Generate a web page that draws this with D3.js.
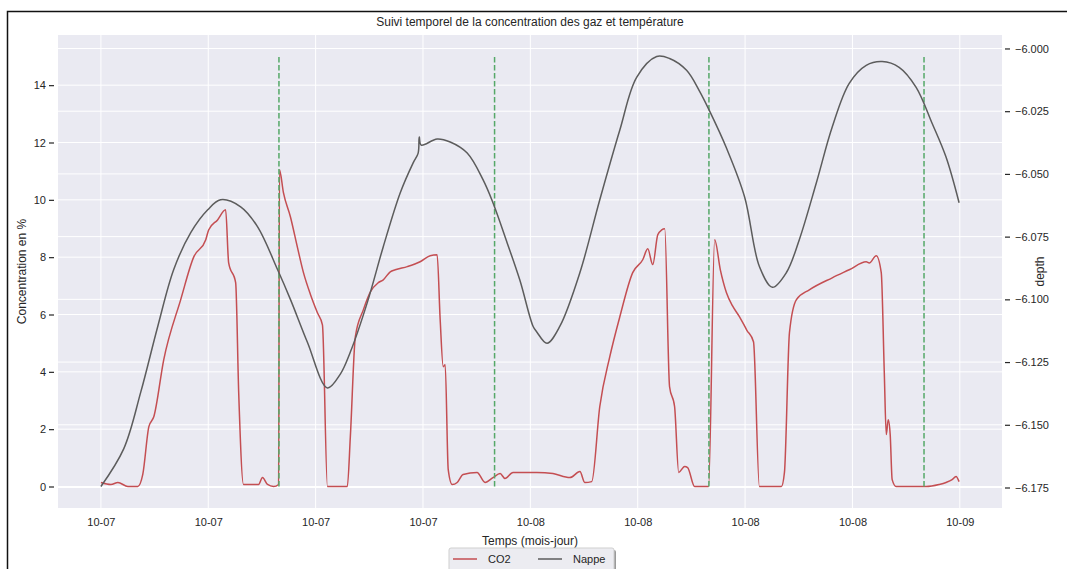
<!DOCTYPE html>
<html>
<head>
<meta charset="utf-8">
<script src="https://cdn.jsdelivr.net/npm/d3@7"></script>
<style>
  body { margin: 0; background: #fff; }
  svg { font-family: "Liberation Sans", Arial, sans-serif; }
</style>
</head>
<body>
<svg id="chart" width="1067" height="569"></svg>
<script>
// heures depuis le 10-07 00:00
const co2Hours = [0, 0.56, 0.95, 1.51, 2.06, 2.34, 2.68, 2.96, 3.51, 4.46, 5.19, 5.86, 6.02, 6.52, 6.97, 7.14, 7.53, 7.7, 7.97, 8.53, 8.81, 9.03, 9.31, 9.65, 9.93,
  9.98, 10.2, 10.59, 10.98, 11.32, 11.71, 12.1, 12.38, 12.66, 13.77, 13.94, 14.22, 14.67, 15.06, 15.5, 15.78, 16.17, 16.45, 17.12, 17.84, 18.4, 18.79, 18.96, 19.13, 19.24, 19.41,
  19.63, 19.91, 20.24, 21.02, 21.47, 21.91, 22.31, 22.58, 23.03, 24.15, 24.37, 25.26, 26.21, 26.77, 27.04, 27.43, 27.88, 28.44, 29.0, 29.72, 30.28, 30.56,
  30.84, 31.12, 31.34, 31.51, 31.78, 32.06, 32.29, 32.62, 32.79, 33.18, 33.96, 34.3, 34.62, 34.96, 35.3, 35.69, 36.1, 36.47, 36.8, 38.03, 38.2, 38.48, 38.87, 39.59, 40.87,
  41.82, 42.77, 42.94, 43.33, 43.61, 43.78, 43.89, 44.0, 44.11, 44.22, 44.44, 46.12, 46.84, 47.23, 47.57, 47.79, 47.96]
const co2Values = [0.14, 0.07, 0.14, 0, 0, 0.42, 2.09, 2.44, 4.42, 6.52, 8.01, 8.61, 8.95, 9.3, 9.65, 7.8, 7.11, 3.28, 0.07, 0.07, 0.07, 0.31, 0.07, 0, 0.07,
  11.05, 10.25, 9.41, 8.35, 7.46, 6.7, 6.06, 5.64, 0, 0, 1.74, 5.23, 6.17, 6.79, 7.11, 7.21, 7.49, 7.56, 7.67, 7.84, 8.05, 8.08, 5.82, 4.18, 4.25, 0.59,
  0.07, 0.14, 0.42, 0.49, 0.14, 0.31, 0.45, 0.28, 0.49, 0.49, 0.49, 0.45, 0.31, 0.52, 0.14, 0.17, 2.79, 4.53, 5.92, 7.46, 7.91, 8.29,
  7.74, 8.78, 8.95, 8.99, 3.48, 2.79, 0.49, 0.7, 0.66, 0, 0, 8.61, 7.55, 6.76, 6.3, 5.92, 5.45, 5.05, 0, 0, 0.49, 5.37, 6.52, 6.86, 7.28,
  7.56, 7.84, 7.8, 8.05, 7.46, 3.97, 1.81, 2.33, 1.81, 0.24, 0, 0, 0.07, 0.14, 0.24, 0.35, 0.17]

const nappeHours = [0, 1.28, 2.23, 3.18, 4.07, 5.02, 5.97, 6.69, 7.81, 8.75, 9.87, 10.59, 11.54, 12.66, 13.38, 13.94, 14.89, 15.78, 16.73, 17.45, 17.73,
  17.79, 17.9, 18.79, 19.52, 20.47, 21.36, 21.91, 22.7, 23.42, 24.15, 24.37, 24.93, 25.65, 26.77, 27.88, 29.0, 29.94, 31.06, 31.78, 32.73, 33.46,
  34.02, 34.96, 35.97, 36.8, 37.53, 38.31, 39.03, 39.98, 40.87, 41.82, 42.77, 43.66, 44.61, 45.56, 46.45, 47.23, 47.96]
const nappeDepth = [-6.1746, -6.1595, -6.1369, -6.1107, -6.0881, -6.0734, -6.0643, -6.0603, -6.0631, -6.071, -6.0881, -6.1, -6.1171, -6.1353, -6.1298,
  -6.121, -6.1012, -6.079, -6.0575, -6.0456, -6.0417, -6.0353, -6.0385, -6.0361, -6.0373, -6.0417, -6.0524, -6.0615, -6.0774, -6.0925, -6.1107,
  -6.1131, -6.1175, -6.1107, -6.0893, -6.0603, -6.0325, -6.0115, -6.0032, -6.004, -6.0087, -6.0171, -6.025, -6.0397, -6.0591, -6.0869, -6.0952,
  -6.0893, -6.0762, -6.0536, -6.0313, -6.0139, -6.0067, -6.0052, -6.0075, -6.0155, -6.0298, -6.0433, -6.0615]

const eventHours = [9.95, 22.0, 33.98, 46.0]
const eventTop = 15

const leftTicks = [0, 2, 4, 6, 8, 10, 12, 14]
const rightTicks = [-6.000, -6.025, -6.050, -6.075, -6.100, -6.125, -6.150, -6.175]

const start = new Date(2021, 9, 7, 0, 0)
const toDate = h => new Date(start.getTime() + h * 3600 * 1000)

const co2 = co2Hours.map((h, i) => ({ date: toDate(h), value: co2Values[i] }))
const nappe = nappeHours.map((h, i) => ({ date: toDate(h), value: nappeDepth[i] }))

const svg = d3.select('#chart')
const margin = { top: 35, right: 65, bottom: 61, left: 58 }
const width = 1067 - margin.left - margin.right
const height = 569 - margin.top - margin.bottom

// cadre de la capture
svg.append('path')
  .attr('d', 'M7.5,569 V11.5 H1067')
  .attr('fill', 'none')
  .attr('stroke', '#111')
  .attr('stroke-width', 1.5)

const pad = ([a, b]) => [a - (b - a) * 0.05, b + (b - a) * 0.05]

const x = d3.scaleTime()
  .domain(pad(d3.extent(co2Hours)).map(toDate))
  .range([0, width])
const y = d3.scaleLinear()
  .domain(pad([0, eventTop]))
  .range([height, 0])
const y2 = d3.scaleLinear()
  .domain(pad(d3.extent(nappeDepth)))
  .range([height, 0])

const g = svg.append('g').attr('transform', 'translate(' + margin.left + ',' + margin.top + ')')

g.append('rect')
  .attr('width', width)
  .attr('height', height)
  .attr('fill', '#eaeaf2')

const xTicks = d3.range(0, 49, 6).map(toDate)

g.append('g').selectAll('line')
  .data(xTicks)
  .join('line')
  .attr('x1', d => x(d)).attr('x2', d => x(d))
  .attr('y1', 0).attr('y2', height)
  .attr('stroke', '#fff').attr('stroke-width', 1)

g.append('g').selectAll('line')
  .data(leftTicks)
  .join('line')
  .attr('x1', 0).attr('x2', width)
  .attr('y1', d => y(d)).attr('y2', d => y(d))
  .attr('stroke', '#fff').attr('stroke-width', 1)

g.append('g').selectAll('line')
  .data(rightTicks)
  .join('line')
  .attr('x1', 0).attr('x2', width)
  .attr('y1', d => y2(d)).attr('y2', d => y2(d))
  .attr('stroke', '#fff').attr('stroke-width', 1)

// axes
const xAxis = g.append('g')
  .attr('transform', 'translate(0,' + height + ')')
  .call(d3.axisBottom(x).tickValues(xTicks).tickFormat(d3.timeFormat('%m-%d')).tickSize(0).tickPadding(10))
xAxis.select('.domain').remove()

const yAxis = g.append('g')
  .call(d3.axisLeft(y).tickValues(leftTicks).tickSize(5).tickPadding(7))
yAxis.select('.domain').remove()
yAxis.selectAll('.tick line').attr('transform', 'translate(-4,0)')

const y2Axis = g.append('g')
  .attr('transform', 'translate(' + width + ',0)')
  .call(d3.axisRight(y2).tickValues(rightTicks).tickFormat(d3.format('.3f')).tickSize(5).tickPadding(8))
y2Axis.select('.domain').remove()
y2Axis.selectAll('.tick line').attr('transform', 'translate(3,0)')

g.selectAll('.tick text')
  .attr('fill', '#262626')
  .style('font-size', '11px')
g.selectAll('.tick line')
  .attr('stroke', '#262626')
  .attr('stroke-width', 1.2)

// courbes
const line = (sc, curve) => d3.line()
  .curve(curve)
  .x(d => x(d.date))
  .y(d => sc(d.value))

g.append('path')
  .datum(co2)
  .attr('fill', 'none')
  .attr('stroke', '#c44e52')
  .attr('stroke-width', 1.5)
  .attr('stroke-linejoin', 'round')
  .attr('d', line(y, d3.curveMonotoneX))

g.append('g').selectAll('line')
  .data(eventHours)
  .join('line')
  .attr('x1', d => x(toDate(d))).attr('x2', d => x(toDate(d)))
  .attr('y1', y(0)).attr('y2', y(eventTop))
  .attr('stroke', '#55a868')
  .attr('stroke-width', 1.5)
  .attr('stroke-dasharray', '5.5,2.5')

g.append('path')
  .datum(nappe)
  .attr('fill', 'none')
  .attr('stroke', '#5c5c5c')
  .attr('stroke-width', 1.5)
  .attr('stroke-linejoin', 'round')
  .attr('d', line(y2, d3.curveCatmullRom.alpha(0.5)))

// textes
svg.append('text')
  .attr('x', margin.left + width / 2)
  .attr('y', 26)
  .attr('text-anchor', 'middle')
  .attr('fill', '#262626')
  .style('font-size', '12px')
  .text('Suivi temporel de la concentration des gaz et température')

svg.append('text')
  .attr('x', margin.left + width / 2)
  .attr('y', 545)
  .attr('text-anchor', 'middle')
  .attr('fill', '#262626')
  .style('font-size', '12px')
  .text('Temps (mois-jour)')

svg.append('text')
  .attr('transform', 'translate(26,' + (margin.top + height / 2) + ') rotate(-90)')
  .attr('text-anchor', 'middle')
  .attr('fill', '#262626')
  .style('font-size', '12px')
  .text('Concentration en %')

svg.append('text')
  .attr('transform', 'translate(1044,' + (margin.top + height / 2) + ') rotate(-90)')
  .attr('text-anchor', 'middle')
  .attr('fill', '#262626')
  .style('font-size', '12px')
  .text('depth')

// légende
const legend = svg.append('g').attr('transform', 'translate(449,548)')
legend.append('rect')
  .attr('x', 2).attr('y', 2)
  .attr('width', 165).attr('height', 30)
  .attr('rx', 2)
  .attr('fill', '#9a9a9a')
legend.append('rect')
  .attr('width', 165).attr('height', 30)
  .attr('rx', 2)
  .attr('fill', '#ececf1')
  .attr('stroke', '#cfcfcf')

const series = [{ name: 'CO2', color: '#c44e52' }, { name: 'Nappe', color: '#5c5c5c' }]
const item = legend.selectAll('.item')
  .data(series)
  .join('g')
  .attr('class', 'item')
  .attr('transform', (d, i) => 'translate(' + (4 + i * 85) + ',11)')
item.append('line')
  .attr('x1', 0).attr('x2', 24)
  .attr('stroke', d => d.color)
  .attr('stroke-width', 1.5)
item.append('text')
  .attr('x', 35).attr('y', 4)
  .attr('fill', '#262626')
  .style('font-size', '11px')
  .text(d => d.name)
</script>
</body>
</html>
